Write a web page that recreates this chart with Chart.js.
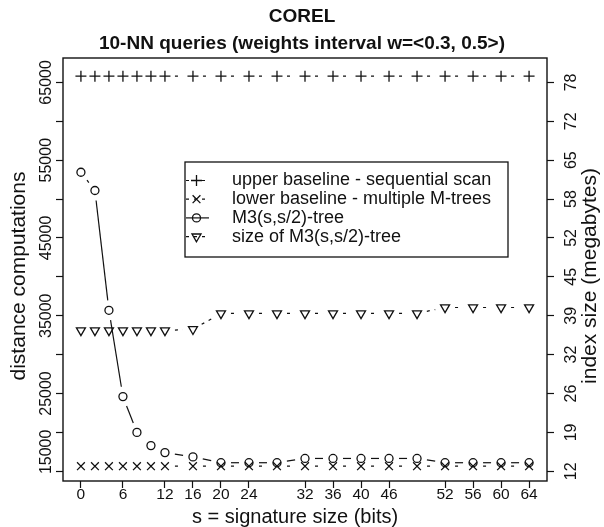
<!DOCTYPE html>
<html><head><meta charset="utf-8">
<script src="https://cdn.jsdelivr.net/npm/chart.js@4.4.0/dist/chart.umd.min.js"></script>
<style>html,body{margin:0;padding:0;background:#fff}</style>
</head><body>
<canvas id="c" width="604" height="527"></canvas>
<script>
// ---------- data ----------
const titleLines = ['COREL', '10-NN queries (weights interval w=<0.3, 0.5>)'];
const xTitle = 's = signature size (bits)';
const yTitle = 'distance computations';
const y2Title = 'index size (megabytes)';
const seriesNames = ['upper baseline - sequential scan', 'lower baseline - multiple M-trees', 'M3(s,s/2)-tree', 'size of M3(s,s/2)-tree'];
const sigSizes = [0, 2, 4, 6, 8, 10, 12, 16, 20, 24, 28, 32, 36, 40, 44, 48, 52, 56, 60, 64];
const upperBaseline = [65800, 65800, 65800, 65800, 65800, 65800, 65800, 65800, 65800, 65800, 65800, 65800, 65800, 65800, 65800, 65800, 65800, 65800, 65800, 65800];
const lowerBaseline = [15650, 15650, 15650, 15650, 15650, 15650, 15650, 15650, 15650, 15650, 15650, 15650, 15650, 15650, 15650, 15650, 15650, 15650, 15650, 15650];
const m3Tree = [53450, 51100, 35700, 24600, 20000, 18300, 17400, 16850, 16100, 16100, 16100, 16650, 16650, 16650, 16650, 16650, 16100, 16100, 16100, 16100];
const m3Size = [36.2, 36.2, 36.2, 36.2, 36.2, 36.2, 36.2, 36.4, 39.1, 39.1, 39.1, 39.1, 39.1, 39.1, 39.1, 39.1, 40.1, 40.1, 40.1, 40.1];
const xTickValues = [0, 6, 12, 16, 20, 24, 32, 36, 40, 44, 52, 56, 60, 64];
const xTickLabels = ['0', '6', '12', '16', '20', '24', '32', '36', '40', '46', '52', '56', '60', '64'];
const yTickValues = [15000, 20000, 25000, 30000, 35000, 40000, 45000, 50000, 55000, 60000, 65000];
const yLabelValues = [17500, 25000, 35000, 45000, 55000, 65000];
const yLabelTexts = ['15000', '25000', '35000', '45000', '55000', '65000'];
const y2TickValues = [12.3, 18.9, 25.5, 32.1, 38.7, 45.3, 51.9, 58.5, 65.1, 71.7, 78.3];
const y2TickLabels = ['12', '19', '26', '32', '39', '45', '52', '58', '65', '72', '78'];

// ---------- styling ----------
const INK = '#111';
const FONT = '"Liberation Sans", Arial, Helvetica, sans-serif';
const GAP = 10;
Chart.defaults.font.family = FONT;
Chart.defaults.color = INK;

const toPts = arr => arr.map((v, i) => ({x: sigSizes[i], y: v}));
const markers = [
  {style: 'cross', r: 5.5, rot: 0, dash: [3, 5]},
  {style: 'crossRot', r: 5.5, rot: 0, dash: [3, 5]},
  {style: 'circle', r: 4, rot: 0, dash: []},
  {style: 'triangle', r: 5.2, rot: 180, dash: [3, 5]}
];
const mkDs = (k, data, axis) => ({
  label: seriesNames[k], data: toPts(data), yAxisID: axis, showLine: false,
  pointStyle: markers[k].style, pointRadius: markers[k].r, pointRotation: markers[k].rot,
  pointBorderWidth: 1.3, pointBorderColor: INK, pointBackgroundColor: 'rgba(0,0,0,0)',
  borderColor: INK, segDash: markers[k].dash
});

function drawMarker(ctx, m, x, y) {
  ctx.beginPath();
  const r = m.r;
  if (m.style === 'cross') { ctx.moveTo(x - r, y); ctx.lineTo(x + r, y); ctx.moveTo(x, y - r); ctx.lineTo(x, y + r); }
  else if (m.style === 'crossRot') { const o = r * Math.SQRT1_2; ctx.moveTo(x - o, y - o); ctx.lineTo(x + o, y + o); ctx.moveTo(x + o, y - o); ctx.lineTo(x - o, y + o); }
  else if (m.style === 'circle') { ctx.arc(x, y, r, 0, Math.PI * 2); }
  else { const s = Math.sin(Math.PI / 3) * r; ctx.moveTo(x, y + r); ctx.lineTo(x - s, y - r / 2); ctx.lineTo(x + s, y - r / 2); ctx.closePath(); }
  ctx.stroke();
}

const gapLines = {
  id: 'gapLines',
  beforeDatasetsDraw(chart) {
    const ctx = chart.ctx;
    chart.data.datasets.forEach((ds, i) => {
      const pts = chart.getDatasetMeta(i).data;
      ctx.save();
      ctx.strokeStyle = INK; ctx.lineWidth = 1.2; ctx.setLineDash(ds.segDash);
      for (let k = 0; k < pts.length - 1; k++) {
        const a = pts[k], b = pts[k + 1];
        const dx = b.x - a.x, dy = b.y - a.y, d = Math.hypot(dx, dy);
        if (d <= 2 * GAP) continue;
        const ux = dx / d, uy = dy / d;
        ctx.lineDashOffset = 0;
        ctx.beginPath();
        ctx.moveTo(a.x + ux * GAP, a.y + uy * GAP);
        ctx.lineTo(b.x - ux * GAP, b.y - uy * GAP);
        ctx.stroke();
      }
      ctx.restore();
    });
  }
};

function vText(ctx, text, x, y, size) {
  ctx.save();
  ctx.translate(x, y); ctx.rotate(-Math.PI / 2);
  ctx.textAlign = 'center'; ctx.textBaseline = 'middle'; ctx.font = size + 'px ' + FONT;
  ctx.fillText(text, 0, 0);
  ctx.restore();
}

const frameAndLegend = {
  id: 'frameAndLegend',
  afterDraw(chart) {
    const ctx = chart.ctx, a = chart.chartArea;
    ctx.save();
    ctx.strokeStyle = INK; ctx.lineWidth = 1.4;
    ctx.strokeRect(a.left, a.top, a.right - a.left, a.bottom - a.top);
    // legend box
    const bx = 185, by = 162, bw = 323, bh = 95, rowY0 = 180.5, rowH = 18.7;
    ctx.fillStyle = '#fff'; ctx.fillRect(bx, by, bw, bh);
    ctx.lineWidth = 1.3; ctx.strokeRect(bx, by, bw, bh);
    ctx.font = '18px ' + FONT; ctx.textBaseline = 'middle'; ctx.textAlign = 'left'; ctx.fillStyle = INK;
    seriesNames.forEach((name, k) => {
      const y = rowY0 + k * rowH;
      ctx.lineWidth = 1.2; ctx.setLineDash(markers[k].dash);
      ctx.beginPath(); ctx.moveTo(bx + 1, y); ctx.lineTo(bx + 24, y); ctx.stroke();
      ctx.setLineDash([]); ctx.lineWidth = 1.3;
      drawMarker(ctx, markers[k], bx + 11.5, y);
      ctx.fillText(name, bx + 47, y);
    });
    // axis titles
    ctx.font = '20px ' + FONT; ctx.textAlign = 'center';
    ctx.fillText(xTitle, 295, 517);
    vText(ctx, yTitle, 19, 276, 21);
    vText(ctx, y2Title, 590, 276, 21);
    ctx.restore();
  }
};

const tickGrid = {drawOnChartArea: false, drawTicks: true, tickLength: 7, tickColor: INK, tickWidth: 1.2};
const yGrid = Object.assign({}, tickGrid, {
  tickColor: c => (c.tick && c.tick.lab !== undefined) ? 'rgba(0,0,0,0)' : INK
});

new Chart(document.getElementById('c'), {
  type: 'scatter',
  data: {datasets: [
    mkDs(0, upperBaseline, 'y'),
    mkDs(1, lowerBaseline, 'y'),
    mkDs(2, m3Tree, 'y'),
    mkDs(3, m3Size, 'y2')
  ]},
  options: {
    responsive: false, animation: false, devicePixelRatio: 1,
    layout: {padding: 0},
    plugins: {
      legend: {display: false}, tooltip: {enabled: false},
      title: {display: true, text: titleLines, color: INK,
        font: {size: 19, weight: 'bold', lineHeight: 27 / 19}, padding: {top: 3.5, bottom: 0.5}}
    },
    scales: {
      x: {type: 'linear', position: 'bottom', min: -2.56, max: 66.56,
        afterBuildTicks: s => { s.ticks = xTickValues.map(v => ({value: v})); },
        afterFit: s => { s.height = 46; },
        ticks: {autoSkip: false, maxRotation: 0, padding: -1, font: {size: 15.5, lineHeight: 1},
          callback: (v, i) => xTickLabels[i]},
        grid: tickGrid, border: {display: false},
        title: {display: false}
      },
      y: {type: 'linear', position: 'left', min: 13750, max: 68140,
        afterBuildTicks: s => {
          s.ticks = yTickValues.map(v => ({value: v}))
            .concat(yLabelValues.map((v, i) => ({value: v, lab: yLabelTexts[i]})));
        },
        afterFit: s => { s.width = 63; },
        ticks: {autoSkip: false, minRotation: 90, maxRotation: 90, crossAlign: 'center', padding: -12.8,
          font: {size: 16, lineHeight: 1}, callback: (v, i, t) => (t[i].lab || '')},
        grid: yGrid, border: {display: false},
        title: {display: false}
      },
      y2: {type: 'linear', position: 'right', min: 10.65, max: 82.4448,
        afterBuildTicks: s => { s.ticks = y2TickValues.map(v => ({value: v})); },
        afterFit: s => { s.width = 57; },
        ticks: {autoSkip: false, minRotation: 90, maxRotation: 90, crossAlign: 'center', padding: 9,
          font: {size: 16, lineHeight: 1}, callback: (v, i) => y2TickLabels[i]},
        grid: tickGrid, border: {display: false},
        title: {display: false}
      }
    }
  },
  plugins: [gapLines, frameAndLegend]
});
</script>
</body></html>
